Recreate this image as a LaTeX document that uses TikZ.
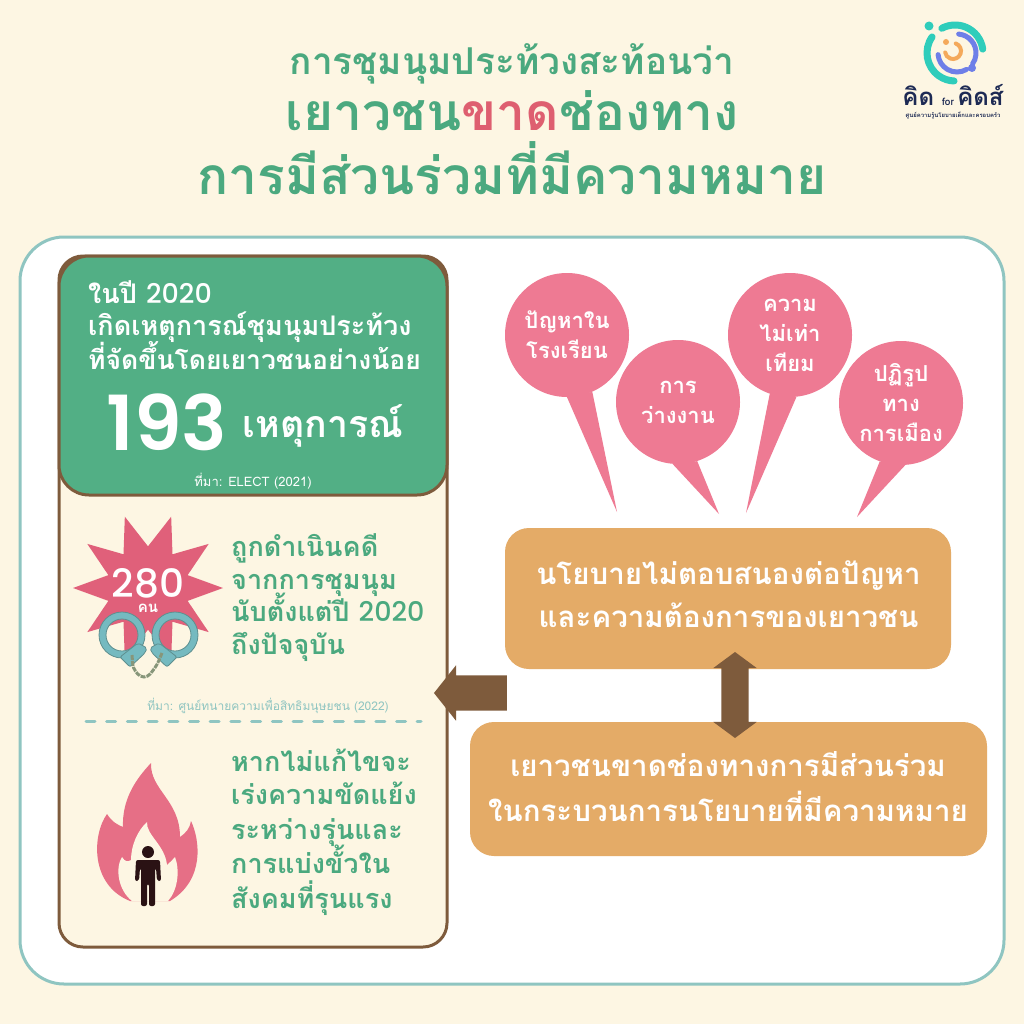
\documentclass[tikz,border=0pt]{standalone}
\usepackage{fontspec}
\setmainfont{Poppins}
\newfontfamily\thaifont[Script=Thai]{Loma}
\newfontfamily\digitfont{Poppins Medium}
\newfontfamily\countfont{Poppins SemiBold}
\usetikzlibrary{shapes.geometric,shapes.arrows}
\definecolor{paper}{HTML}{FDF6E3}
\definecolor{tealline}{HTML}{8FC5C1}
\definecolor{greenbox}{HTML}{52AF85}
\definecolor{greentext}{HTML}{4BA97F}
\definecolor{redword}{HTML}{DE5F70}
\definecolor{pinkfill}{HTML}{EE7A93}
\definecolor{starfill}{HTML}{E0607A}
\definecolor{flamefill}{HTML}{E66F86}
\definecolor{orangebox}{HTML}{E4AB67}
\definecolor{brownline}{HTML}{7E5B3C}
\definecolor{navytext}{HTML}{1D2A54}
\definecolor{cufffill}{HTML}{75BAC0}
\definecolor{cuffline}{HTML}{5E8F8F}
\definecolor{chainline}{HTML}{87967A}
\definecolor{personfill}{HTML}{2A1214}
\definecolor{logoteal}{HTML}{2FCDBB}
\definecolor{logoblue}{HTML}{6E7FE8}
\definecolor{logoorange}{HTML}{F4A95B}
\tikzset{
  thai text/.style={font=\thaifont\bfseries\fontsize{#1}{#1}\selectfont,inner sep=0pt,text height=#1*0.5pt,text depth=0pt},
  title line/.style={thai text=#1,text=greentext,anchor=center},
  side line/.style={thai text=27,text=greentext,anchor=west},
  box line/.style={thai text=29.5,text=white,anchor=center},
  bubble/.style={circle,fill=pinkfill,minimum size=124pt,inner sep=0pt,text=white,align=center,
    font=\thaifont\bfseries\fontsize{22}{30}\selectfont},
  orange box/.style={fill=orangebox,rounded corners=24pt,minimum width=#1},
  source line/.style={font=\thaifont\fontsize{#1}{#1}\selectfont,inner sep=0pt},
  cuff ring/.style={fill=cufffill,draw=cuffline,line width=0.8pt,even odd rule},
  cuff lock/.style={fill=cufffill,draw=cuffline,line width=0.8pt,rounded corners=2pt},
  logo arc/.style={line width=#1,line cap=round},
}
\begin{document}
\begin{tikzpicture}[x=1pt,y=-1pt]
        \useasboundingbox[fill=paper] (0,0) rectangle (1024,1024);

        % Draw panels
        \draw[tealline,fill=white,line width=3pt,rounded corners=44pt] (20,237) rectangle (1004,984);
        \draw[brownline,fill=paper,line width=3pt,rounded corners=24pt] (59,256) rectangle (447,947);
        \draw[brownline,fill=greenbox,line width=3pt,rounded corners=30pt] (59,256) rectangle (447,495);

        % Define title
        \node[title line=37] (title1) at (512,65) {การชุมนุมประท้วงสะท้อนว่า};
        \node[title line=51.5] (title2) at (512,118) {เยาวชน\textcolor{redword}{ขาด}ช่องทาง};
        \node[title line=51.5] (title3) at (512,182) {การมีส่วนร่วมที่มีความหมาย};

        % Define green box text
        \node[thai text=27,text=white,anchor=west] (intro1) at (88,297) {ในปี {\digitfont\mdseries 2020}};
        \node[thai text=27,text=white,anchor=west] (intro2) at (88,329) {เกิดเหตุการณ์ชุมนุมประท้วง};
        \node[thai text=26.5,text=white,anchor=west] (intro3) at (88,363) {ที่จัดขึ้นโดยเยาวชนอย่างน้อย};
        \node[font=\countfont\fontsize{76}{76}\selectfont,text=white,inner sep=0pt] (count) at (167,422) {193};
        \node[thai text=37.5,text=white] (countword) at (323,428) {เหตุการณ์};
        \node[source line=13,text=white] (source1) at (253,481) {ที่มา: ELECT (2021)};

        % Define arrested block
        \node[star,star points=10,star point ratio=1.8,minimum size=150pt,inner sep=0pt,fill=starfill,shape border rotate=18] (burst) at (148,588) {};
        \node[font=\digitfont\fontsize{39}{39}\selectfont,text=white,inner sep=0pt] (arrested) at (148,583) {280};
        \node[thai text=15,text=white] (arrestedunit) at (148,609) {คน};
        \draw[cuff ring] (122,635) circle (23pt) (122,635) circle (16pt) (175,635) circle (23pt) (175,635) circle (16pt);
        \draw[cuff lock] (120,657) -- (138,643) -- (147,648) -- (145,653) -- (130,667) -- cycle;
        \draw[cuff lock] (177,657) -- (159,643) -- (150,648) -- (152,653) -- (167,667) -- cycle;
        \draw[chainline,line width=3pt,dash pattern=on 5pt off 1pt,rounded corners=4pt] (132,655) -- (133,668) -- (140,677) -- (148,677) -- (157,665) -- (162,653);
        \node[side line] (case1) at (231,550) {ถูกดำเนินคดี};
        \node[side line] (case2) at (231,583) {จากการชุมนุม};
        \node[side line] (case3) at (231,615) {นับตั้งแต่ปี {\digitfont\mdseries 2020}};
        \node[side line] (case4) at (231,648) {ถึงปัจจุบัน};
        \node[source line=12,text=tealline] (source2) at (268,706) {ที่มา: ศูนย์ทนายความเพื่อสิทธิมนุษยชน (2022)};
        \draw[tealline,line width=3pt,line cap=round,dash pattern=on 9pt off 11.7pt] (86,721) -- (421,721);

        % Define flame block
        \fill[flamefill] (151,763) .. controls (150,790) and (180,800) .. (180,837)
          .. controls (186,833) and (190,828) .. (191,821)
          .. controls (200,840) and (205,880) .. (170,901) -- (130,901)
          .. controls (90,885) and (92,835) .. (107,814)
          .. controls (112,822) and (118,825) .. (123,827)
          .. controls (122,800) and (135,780) .. (151,763) -- cycle;
        \fill[paper] (147,822) .. controls (146,835) and (165,845) .. (167,865)
          .. controls (170,862) and (173,860) .. (175,857)
          .. controls (180,870) and (178,890) .. (168,901) -- (132,901)
          .. controls (118,890) and (115,868) .. (122,857)
          .. controls (125,862) and (128,862) .. (131,860)
          .. controls (131,845) and (138,830) .. (147,822) -- cycle;
        \fill[personfill] (148,852) circle (6pt);
        \fill[personfill,rounded corners=2pt] (136,860) -- (160,860) -- (161,881) -- (157,881) -- (156,868) -- (155,868) -- (155,906) -- (149,906) -- (149,884) -- (147,884) -- (147,906) -- (141,906) -- (141,868) -- (140,868) -- (139,881) -- (135,881) -- cycle;
        \node[side line] (risk1) at (231,765) {หากไม่แก้ไขจะ};
        \node[side line] (risk2) at (231,798) {เร่งความขัดแย้ง};
        \node[side line] (risk3) at (231,833) {ระหว่างรุ่นและ};
        \node[side line] (risk4) at (231,867) {การแบ่งขั้วใน};
        \node[side line] (risk5) at (231,902) {สังคมที่รุนแรง};

        % Define bubbles
        \node[bubble] (school) at (567,335) {ปัญหาใน\\โรงเรียน};
        \node[bubble] (jobs) at (678,402) {การ\\ว่างงาน};
        \node[bubble] (equal) at (790,335) {ความ\\ไม่เท่า\\เทียม};
        \node[bubble] (reform) at (901,403) {ปฏิรูป\\ทาง\\การเมือง};
        \coordinate (schooltip) at (617,512);
        \coordinate (jobstip) at (719,514);
        \coordinate (equaltip) at (746,513);
        \coordinate (reformtip) at (857,517);
        \fill[pinkfill] (school.-90) -- (schooltip) -- (school.-66) -- cycle;
        \fill[pinkfill] (jobs.-95) -- (jobstip) -- (jobs.-72) -- cycle;
        \fill[pinkfill] (equal.-109) -- (equaltip) -- (equal.-84) -- cycle;
        \fill[pinkfill] (reform.-110) -- (reformtip) -- (reform.-86) -- cycle;

        % Define orange boxes
        \node[orange box=446pt,minimum height=141pt] (policy) at (728,598.5) {};
        \node[orange box=517pt,minimum height=134pt] (youth) at (728.5,789) {};
        \node[box line] (policy1) at (728.5,577) {นโยบายไม่ตอบสนองต่อปัญหา};
        \node[box line] (policy2) at (728.5,620) {และความต้องการของเยาวชน};
        \node[box line] (youth1) at (728,769) {เยาวชนขาดช่องทางการมีส่วนร่วม};
        \node[box line] (youth2) at (728,814) {ในกระบวนการนโยบายที่มีความหมาย};

        % Draw arrows
        \node[double arrow,fill=brownline,rotate=90,minimum height=86pt,inner sep=0pt,text height=27pt,text depth=0pt,double arrow head extend=8pt,double arrow tip angle=107] (link) at (735,695) {};
        \node[single arrow,fill=brownline,shape border rotate=180,minimum height=73pt,inner sep=0pt,text height=35pt,text depth=0pt,single arrow head extend=10pt,single arrow tip angle=103] (back) at (477.5,693) {};

        % Draw logo
        \draw[logoteal,logo arc=7pt] (955,53) ++(8:28pt) arc (8:118:28pt);
        \draw[logoteal,logo arc=7pt] (955,53) ++(145:28pt) arc (145:268:28pt);
        \fill[logoteal] (929,26) circle (4.5pt);
        \draw[logoblue,logo arc=5pt] (957,53) ++(85:19pt) arc (85:-35:19pt);
        \draw[logoblue,logo arc=5pt] (957,53) ++(-60:19pt) arc (-60:-175:19pt);
        \fill[logoblue] (972,68) circle (4pt);
        \draw[logoorange,logo arc=4pt] (953,51) ++(70:8pt) arc (70:-170:8pt);
        \fill[logoorange] (946,42) circle (3pt);
        \node[thai text=24,text=navytext] (logoname) at (953,100) {คิด \fontsize{10}{10}\selectfont for \fontsize{24}{24}\selectfont คิดส์};
        \node[thai text=5.9,text=navytext] (logosub) at (953,116) {ศูนย์ความรู้นโยบายเด็กและครอบครัว};
\end{tikzpicture}
\end{document}
